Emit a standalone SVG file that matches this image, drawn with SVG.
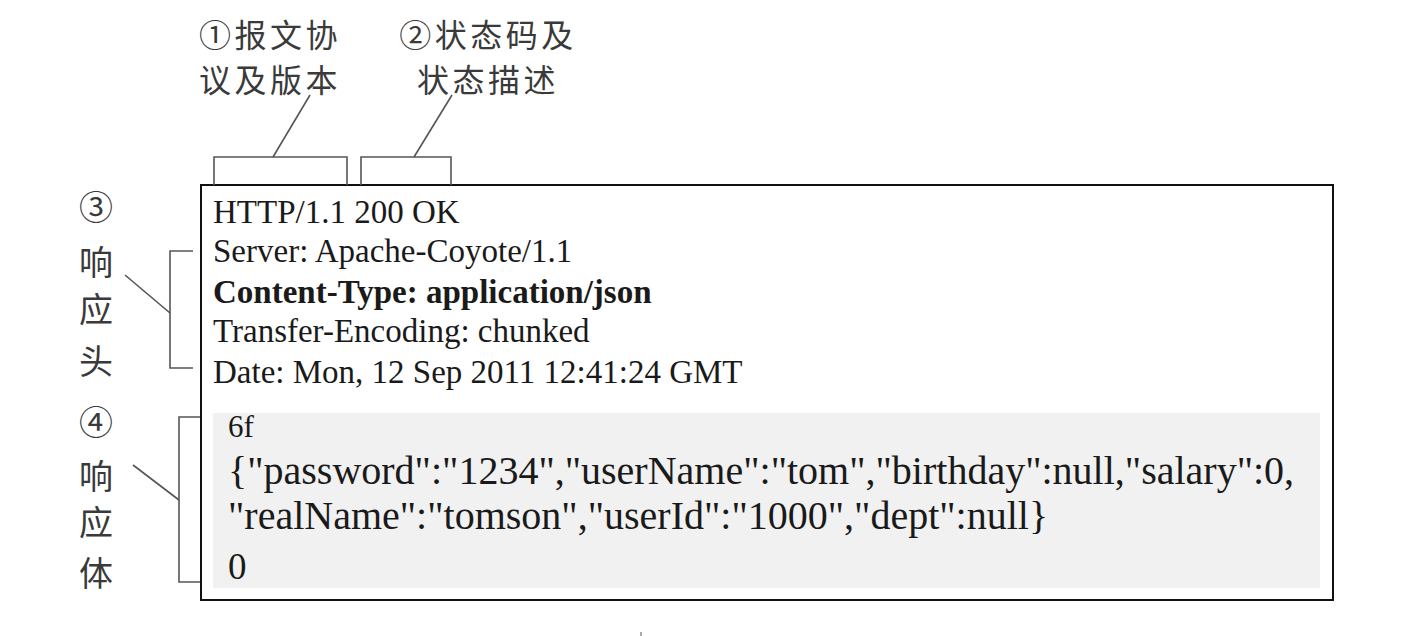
<svg xmlns="http://www.w3.org/2000/svg" width="1414" height="636" viewBox="0 0 1414 636">
<style>
.cjk{font-family:"Noto Sans CJK SC",sans-serif;font-size:32px;fill:#3a3a3a;letter-spacing:3.5px;}
.v{font-family:"Noto Sans CJK SC",sans-serif;font-size:34px;fill:#3a3a3a;}
.t{font-family:"Liberation Serif",serif;font-size:33px;fill:#1a1a1a;}
.b{font-family:"Liberation Serif",serif;font-size:40px;fill:#1a1a1a;}
.ln{fill:none;stroke:#555;stroke-width:1.6;}
</style>
<rect width="1414" height="636" fill="#fff"/>
<g id="message">
<rect x="201" y="185" width="1132" height="415" fill="#fff" stroke="#111" stroke-width="2"/>
<rect x="213" y="413" width="1107" height="175" fill="#f1f1f1"/>
<text class="t" x="213" y="223">HTTP/1.1 200 OK</text>
<text class="t" x="213" y="262">Server: Apache-Coyote/1.1</text>
<text class="t" x="213" y="303" font-weight="bold">Content-Type: application/json</text>
<text class="t" x="213" y="342">Transfer-Encoding: chunked</text>
<text class="t" x="213" y="383">Date: Mon, 12 Sep 2011 12:41:24 GMT</text>
<text class="t" x="228" y="437" style="font-size:31px">6f</text>
<text class="b" x="228" y="484">{"password":"1234","userName":"tom","birthday":null,"salary":0,</text>
<text class="b" x="228" y="529">"realName":"tomson","userId":"1000","dept":null}</text>
<text class="t" x="228" y="579" style="font-size:37px">0</text>
</g>
<g id="label1">
<text class="cjk" x="270" y="47" text-anchor="middle">①报文协</text>
<text class="cjk" x="270" y="92" text-anchor="middle">议及版本</text>
</g>
<g id="label2">
<text class="cjk" x="488" y="47" text-anchor="middle">②状态码及</text>
<text class="cjk" x="488" y="92" text-anchor="middle">状态描述</text>
</g>
<g id="label3">
<text class="v" x="96" y="220" text-anchor="middle">③</text>
<text class="v" x="96" y="275" text-anchor="middle">响</text>
<text class="v" x="96" y="322" text-anchor="middle">应</text>
<text class="v" x="96" y="374" text-anchor="middle">头</text>
</g>
<g id="label4">
<text class="v" x="96" y="435" text-anchor="middle">④</text>
<text class="v" x="96" y="489" text-anchor="middle">响</text>
<text class="v" x="96" y="535" text-anchor="middle">应</text>
<text class="v" x="96" y="586" text-anchor="middle">体</text>
</g>
<g id="connectors">
<polyline class="ln" points="214,185 214,157 347,157 347,185"/>
<polyline class="ln" points="361,185 361,157 451,157 451,185"/>
<line class="ln" x1="273" y1="157" x2="310" y2="95"/>
<line class="ln" x1="414" y1="157" x2="452" y2="95"/>
<polyline class="ln" points="193,251 170,251 170,368 193,368"/>
<line class="ln" x1="125" y1="275" x2="170" y2="313"/>
<polyline class="ln" points="200,417 179,417 179,582 200,582"/>
<line class="ln" x1="133" y1="465" x2="179" y2="500"/>
</g>
<rect x="640" y="632" width="2" height="4" fill="#aaa"/>
</svg>
